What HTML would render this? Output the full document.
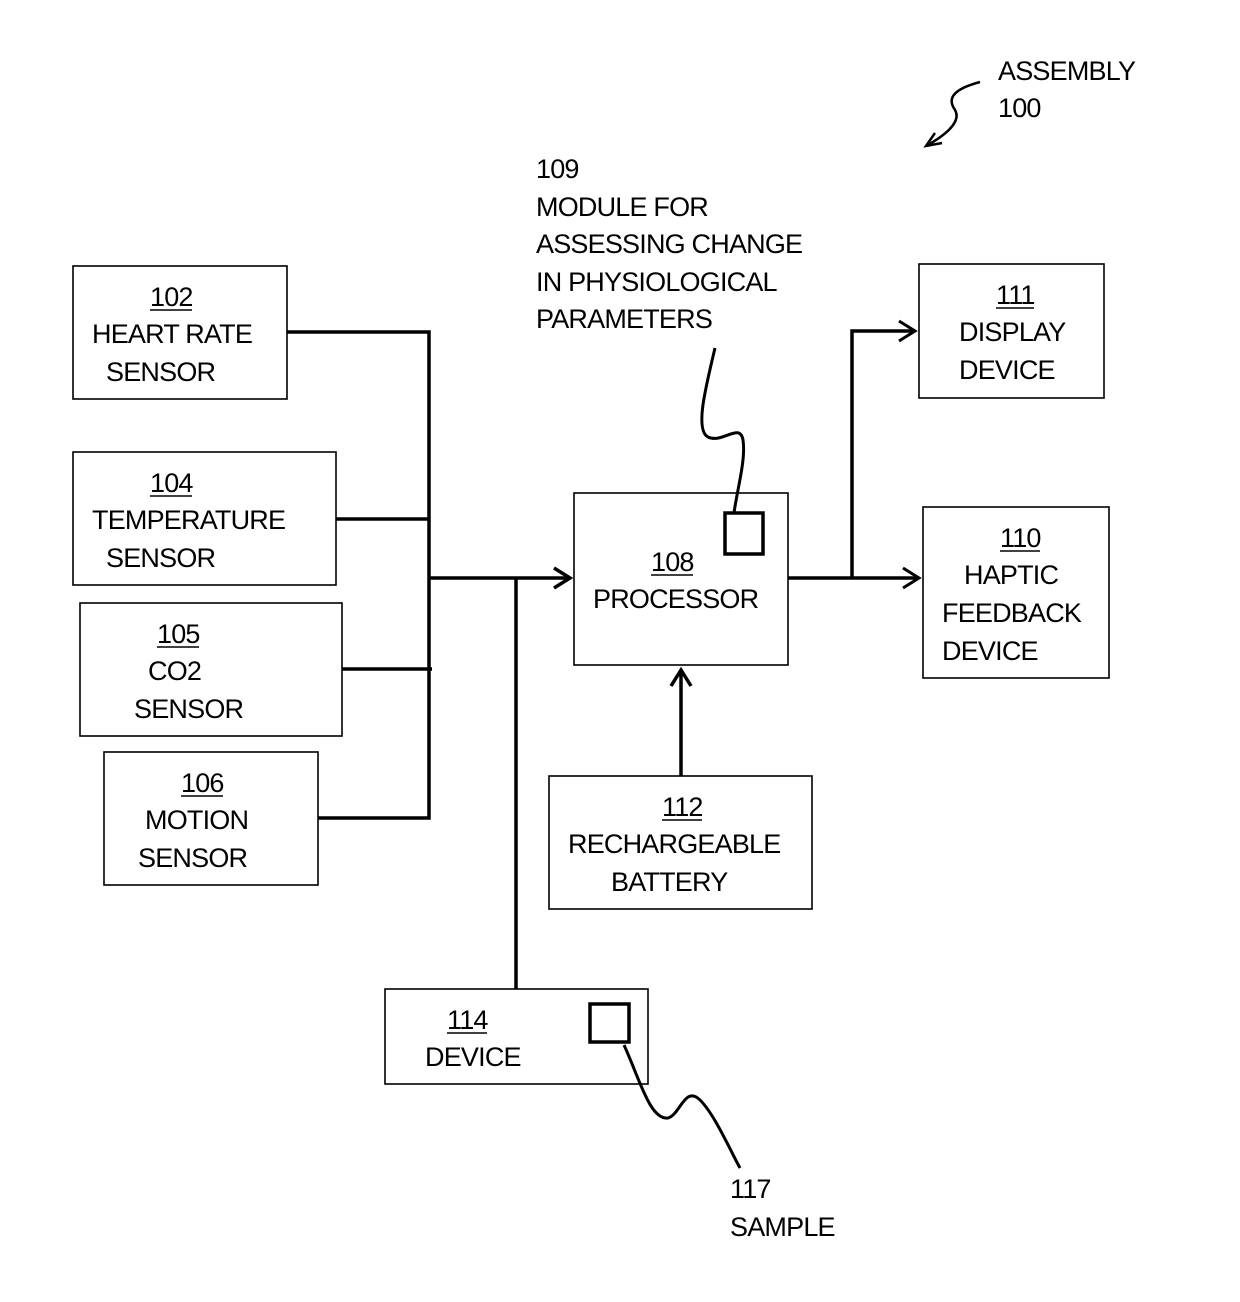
<!DOCTYPE html>
<html><head><meta charset="utf-8"><style>
html,body{margin:0;padding:0;background:#fff;}
svg text{font-family:"Liberation Sans",Arial,sans-serif;font-size:27px;fill:#000;letter-spacing:-0.8px;}
</style></head><body>
<svg width="1240" height="1297" viewBox="0 0 1240 1297" xmlns="http://www.w3.org/2000/svg">
<g fill="none" stroke="#000" stroke-width="1.6">
<rect x="73" y="266" width="214" height="133"/>
<rect x="73" y="452" width="263" height="133"/>
<rect x="80" y="603" width="262" height="133"/>
<rect x="104" y="752" width="214" height="133"/>
<rect x="574" y="493" width="214" height="172"/>
<rect x="919" y="264" width="185" height="134"/>
<rect x="923" y="507" width="186" height="171"/>
<rect x="549" y="776" width="263" height="133"/>
<rect x="385" y="989" width="263" height="95"/>
</g>
<g fill="none" stroke="#000" stroke-width="3.5" stroke-linecap="butt">
<rect x="725" y="513" width="38" height="41"/>
<rect x="590" y="1004" width="39" height="38"/>
<path d="M287 332 H429 V818 H318"/>
<path d="M336 519 H429"/>
<path d="M342 669 H432"/>
<path d="M429 578 H570"/>
<path d="M516 578 V989"/>
<path d="M788 578 H919"/>
<path d="M852 578 V331 H915"/>
<path d="M681 776 V670"/>
<path d="M554 568 L570 578 L554 588"/>
<path d="M903 568 L919 578 L903 588" stroke-width="3"/>
<path d="M899 321 L915 331 L899 341" stroke-width="3"/>
<path d="M671 686 L681 670 L691 686"/>
<path d="M715 348 C705 390 695 430 708 437 C722 444 740 422 743 440 C746 460 737 490 734 513" stroke-width="3"/>
<path d="M624 1045 C640 1080 650 1120 668 1118 C680 1115 685 1085 700 1100 C715 1115 730 1150 740 1168" stroke-width="3"/>
<path d="M980 82 C950 90 948 100 955 110 C962 122 945 135 928 145" stroke-width="2.5"/>
<path d="M935 133 L926 146 L942 143" stroke-width="2.5"/>
</g>
<g>
<text x="150" y="306">102</text><line x1="150" y1="310" x2="192" y2="310" stroke="#000" stroke-width="1.5"/>
<text x="92" y="343">HEART RATE</text>
<text x="106" y="381">SENSOR</text>
<text x="150" y="492">104</text><line x1="150" y1="496" x2="192" y2="496" stroke="#000" stroke-width="1.5"/>
<text x="92" y="529">TEMPERATURE</text>
<text x="106" y="567">SENSOR</text>
<text x="157" y="643">105</text><line x1="157" y1="647" x2="199" y2="647" stroke="#000" stroke-width="1.5"/>
<text x="148" y="680">CO2</text>
<text x="134" y="718">SENSOR</text>
<text x="181" y="792">106</text><line x1="181" y1="796" x2="223" y2="796" stroke="#000" stroke-width="1.5"/>
<text x="145" y="829">MOTION</text>
<text x="138" y="867">SENSOR</text>
<text x="651" y="571">108</text><line x1="651" y1="575" x2="693" y2="575" stroke="#000" stroke-width="1.5"/>
<text x="593" y="608">PROCESSOR</text>
<text x="996" y="304">111</text><line x1="996" y1="308" x2="1034" y2="308" stroke="#000" stroke-width="1.5"/>
<text x="959" y="341">DISPLAY</text>
<text x="959" y="379">DEVICE</text>
<text x="1000" y="547">110</text><line x1="1000" y1="551" x2="1040" y2="551" stroke="#000" stroke-width="1.5"/>
<text x="964" y="584">HAPTIC</text>
<text x="942" y="622">FEEDBACK</text>
<text x="942" y="660">DEVICE</text>
<text x="662" y="816">112</text><line x1="662" y1="820" x2="702" y2="820" stroke="#000" stroke-width="1.5"/>
<text x="568" y="853">RECHARGEABLE</text>
<text x="611" y="891">BATTERY</text>
<text x="447" y="1029">114</text><line x1="447" y1="1033" x2="487" y2="1033" stroke="#000" stroke-width="1.5"/>
<text x="425" y="1066">DEVICE</text>
<text x="536" y="178">109</text>
<text x="536" y="216">MODULE FOR</text>
<text x="536" y="253">ASSESSING CHANGE</text>
<text x="536" y="291">IN PHYSIOLOGICAL</text>
<text x="536" y="328">PARAMETERS</text>
<text x="998" y="80">ASSEMBLY</text>
<text x="998" y="117">100</text>
<text x="730" y="1198">117</text>
<text x="730" y="1236">SAMPLE</text>
</g>
</svg>
</body></html>
